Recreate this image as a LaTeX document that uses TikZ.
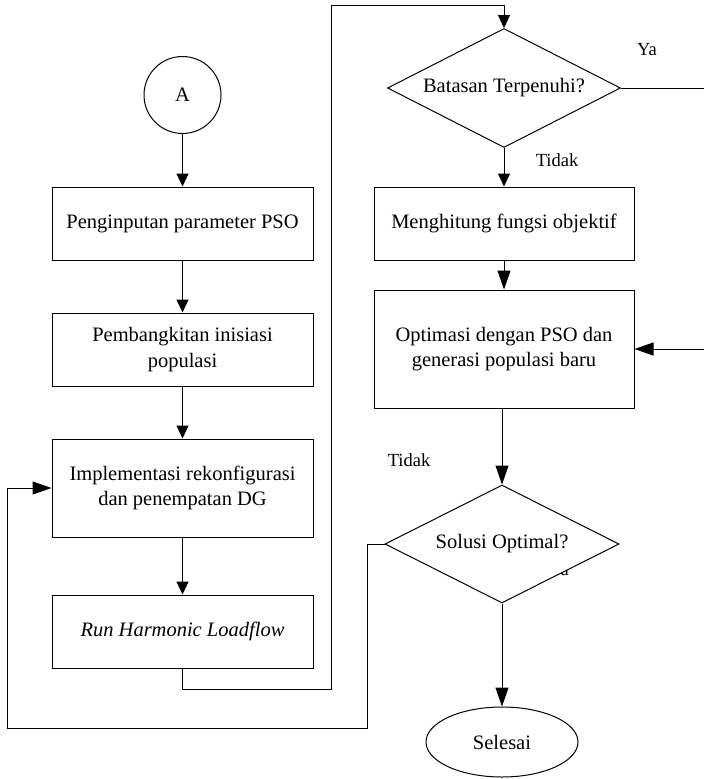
\documentclass[tikz,border=0pt]{standalone}
\usepackage{fontspec}
\setmainfont{Liberation Serif}
\usetikzlibrary{shapes.geometric,arrows.meta}

\tikzset{
  every node/.style={font=\fontsize{20.5}{25.5}\selectfont},
  procbox/.style={draw, line width=1pt, rectangle, minimum width=261pt, inner sep=0pt, align=center},
  decision/.style={draw, line width=1pt, diamond, aspect=2, inner sep=0pt, fill=white,
                   minimum width=233pt, minimum height=119pt},
  terminal/.style={draw, line width=1pt, ellipse, inner sep=0pt, minimum width=152pt, minimum height=70pt},
  connector/.style={draw, line width=1pt, minimum size=77pt, circle, inner sep=0pt},
  lbl/.style={font=\fontsize{18.5}{22}\selectfont, inner sep=0pt},
  wire/.style={line width=1pt},
  arrS/.style={wire, -{Triangle[length=13pt,width=12pt]}},
  arrL/.style={wire, -{Triangle[length=19pt,width=13pt]}},
}

\begin{document}
\begin{tikzpicture}[x=1pt,y=-1pt]
\useasboundingbox (0,0) rectangle (704,779);

% left column
\node[connector] (A) at (182.5,95) {A};
\node[procbox, minimum height=73pt] (b1) at (182.5,223.5) {Penginputan parameter PSO};
\node[procbox, minimum height=73pt] (b2) at (182.5,349.5) {Pembangkitan inisiasi\\populasi};
\node[procbox, minimum height=98pt] (b3) at (182.5,488) {Implementasi rekonfigurasi\\dan penempatan DG};
\node[procbox, minimum height=73pt] (b4) at (182.5,631.5) {\itshape Run Harmonic Loadflow};

% right column
\node[decision] (d1) at (504,88) {Batasan Terpenuhi?};
\node[procbox, minimum width=260pt, minimum height=73pt] (m1) at (504,223.5) {Menghitung fungsi objektif};
\node[procbox, minimum width=260pt, minimum height=118pt] (m2) at (504,349) {Optimasi dengan PSO dan\\generasi populasi baru};

% label lying under the second decision
\node[lbl] (yaHidden) at (559,570) {Ya};
\node[decision, minimum width=234pt, minimum height=118pt] (d2) at (502,544) {Solusi Optimal?};
\node[terminal] (E) at (502,742) {Selesai};

% labels
\node[lbl] (ya1) at (647,50) {Ya};
\node[lbl] (tidak1) at (557,160) {Tidak};
\node[lbl] (tidak2) at (409,460) {Tidak};

% routing points
\coordinate (r1) at (331,689);
\coordinate (r2) at (331,5);
\coordinate (e1) at (704,88);
\coordinate (e2) at (704,349);
\coordinate (l1) at (367,728);
\coordinate (l2) at (7,488);

% connectors
\draw[arrS] (A) -- (b1);
\draw[arrS] (b1) -- (b2);
\draw[arrS] (b2) -- (b3);
\draw[arrS] (b3) -- (b4);
\draw[arrS] (b4.south) |- (r1) -- (r2) -| (d1.north);
\draw[arrS] (d1.south) -- (m1.north);
\draw[arrL] (m1) -- (m2);
\draw[wire] (d1.east) -- (e1);
\draw[arrL] (e2) -- (m2.east);
\draw[arrL] (m2.south -| d2.north) -- (d2.north);
\draw[arrL] (d2.south) -- (E.north);
\draw[arrL] (d2.west) -| (l1) -| (l2) -- (b3.west);
\end{tikzpicture}
\end{document}
